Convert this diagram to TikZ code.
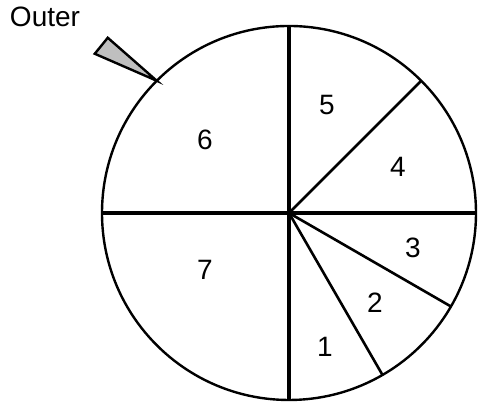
\documentclass[tikz,border=0pt]{standalone}
\usepackage{fontspec}
\setmainfont{Liberation Sans}
\usetikzlibrary{arrows.meta}

\begin{document}
\begin{tikzpicture}[
    x=0.5pt, y=0.5pt,
    wheelrim/.style={circle, draw, line width=1.2pt, inner sep=0pt, outer sep=0pt, minimum size=187pt},
    wheelaxis/.style={line width=1.8pt},
    wheelspoke/.style={line width=1.3pt},
    sectorlabel/.style={font=\fontsize{14}{16}\selectfont},
    wheelpointer/.style={draw, fill=black!25, line width=1.2pt, line join=miter}
]
\useasboundingbox (0,0) rectangle (478,405);
\node[wheelrim] (rim) at (289,192) {};
\coordinate (hub) at (rim.center);

\draw[wheelaxis] (rim.north) -- (rim.south);
\draw[wheelaxis] (rim.west) -- (rim.east);
\draw[wheelspoke] (hub) -- (rim.45);
\draw[wheelspoke] (hub) -- (rim.-30);
\draw[wheelspoke] (hub) -- (rim.-60);

\node[sectorlabel] (s1) at (325,58) {1};
\node[sectorlabel] (s2) at (375,102) {2};
\node[sectorlabel] (s3) at (413,157) {3};
\node[sectorlabel] (s4) at (398,238) {4};
\node[sectorlabel] (s5) at (327,300) {5};
\node[sectorlabel] (s6) at (205,265) {6};
\node[sectorlabel] (s7) at (205,135) {7};

\draw[wheelpointer] (rim.135) -- ++(-62,27) -- ++(13,16) -- cycle;
\node[font=\fontsize{14}{16}\selectfont] (outer) at (45,388) {Outer};
\end{tikzpicture}
\end{document}
